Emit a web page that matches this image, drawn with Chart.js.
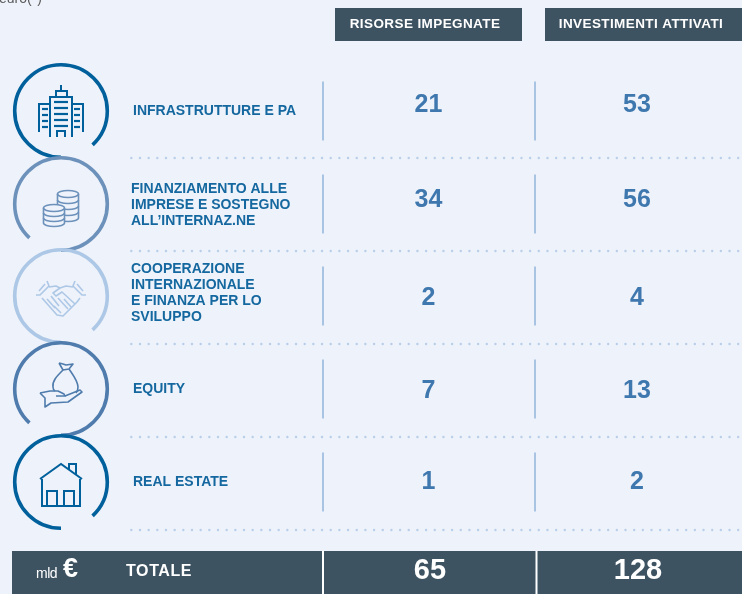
<!DOCTYPE html>
<html><head><meta charset="utf-8">
<style>html,body{margin:0;padding:0;background:#eef2fa;overflow:hidden}canvas{display:block}</style>
<script src="https://cdn.jsdelivr.net/npm/chart.js@4"></script></head>
<body><canvas id="c" width="742" height="594"></canvas>
<script>
const categories=[["INFRASTRUTTURE E PA"],["FINANZIAMENTO ALLE","IMPRESE E SOSTEGNO","ALL’INTERNAZ.NE"],["COOPERAZIONE","INTERNAZIONALE","E FINANZA PER LO","SVILUPPO"],["EQUITY"],["REAL ESTATE"]];
const risorse=[21,34,2,7,1];
const investimenti=[53,56,4,13,2];
const columnTitles=["RISORSE IMPEGNATE","INVESTIMENTI ATTIVATI"];
const totalLabel="TOTALE";
const totals=[65,128];

// layout (page positions on the 1:1 scales)
const ringY=[111,204,296,389,482], ringMirror=[false,true,false,true,false];
const ringCol=["#00609c","#6c91bb","#adc8e6","#4f7cad","#00609c"];
const valY=[105,200,298,391,482], labelY=[111,205,293,389,482], labelX=[133,131,131,133,133];
const sepY=[158,251,344,437,530], vY=[111,204,296,389,482];
const colX=[428.5,637], totX=[430,638];
const pts=(a,xs,ys)=>a.map((v,i)=>({x:xs,y:ys[i],v}));

const ink="#3e5362", bg="#eef2fa";
function ring(c,x,y,i){
  c.strokeStyle=ringCol[i];c.lineWidth=3.6;c.lineCap="butt";c.beginPath();
  if(ringMirror[i])c.arc(x,y,46.3,90*Math.PI/180,133*Math.PI/180,true);
  else c.arc(x,y,46.3,90*Math.PI/180,47*Math.PI/180);
  c.stroke();
}
function building(c,x,y,col){
  c.strokeStyle=col;c.lineWidth=2;
  const o=-111;const L=(a,b,d,e)=>{c.beginPath();c.moveTo(x+a,y+b);c.lineTo(x+d,y+e);c.stroke()};
  c.beginPath();c.moveTo(x-11,y+137+o);c.lineTo(x-11,y+97+o);c.lineTo(x+11,y+97+o);c.lineTo(x+11,y+137+o);c.stroke();
  c.strokeRect(x-5,y+91+o,11,6);L(0,85+o,0,91+o);
  c.beginPath();c.moveTo(x-11,y+104+o);c.lineTo(x-22,y+104+o);c.lineTo(x-22,y+132+o);c.stroke();
  c.beginPath();c.moveTo(x+11,y+104+o);c.lineTo(x+22,y+104+o);c.lineTo(x+22,y+132+o);c.stroke();
  c.lineWidth=2.2;
  for(let k=0;k<5;k++){const yy=102+o+k*6;L(-7,yy,7,yy);}
  for(let k=0;k<4;k++){const yy=109+o+k*6;L(-19,yy,-13,yy);L(13,yy,19,yy);}
  c.lineWidth=2;c.beginPath();c.moveTo(x-4,y+137+o);c.lineTo(x-4,y+131+o);c.lineTo(x+4,y+131+o);c.lineTo(x+4,y+137+o);c.stroke();
}
function stack(c,cx,top,rx,n,st,col){
  c.strokeStyle=col;c.lineWidth=1.6;const ry=3.5;
  c.beginPath();c.ellipse(cx,top,rx,ry,0,0,Math.PI*2);c.stroke();
  for(let k=1;k<=n;k++){c.beginPath();c.ellipse(cx,top+k*st,rx,ry,0,0,Math.PI);c.stroke();}
  c.beginPath();c.moveTo(cx-rx,top);c.lineTo(cx-rx,top+n*st);c.moveTo(cx+rx,top);c.lineTo(cx+rx,top+n*st);c.stroke();
}
function coins(c,x,y,col){stack(c,x+7,y-10,10.5,4,6,col);
  c.fillStyle=bg;c.beginPath();c.ellipse(x-7,y+4,10.5,4,0,0,7);c.rect(x-17.5,y+4,21,15);c.fill();stack(c,x-7,y+4,10.5,3,5,col);}
function hands(c,x,y,col){
  c.strokeStyle=col;c.lineWidth=1.6;c.lineJoin="round";
  const P=a=>{c.beginPath();a.forEach((p,k)=>k?c.lineTo(x+p[0],y+p[1]):c.moveTo(x+p[0],y+p[1]));c.stroke()};
  P([[-25,-1],[-21,-1],[-12,-10],[-14,-15]]);P([[25,-1],[21,-1],[12,-10],[14,-15]]);
  P([[-19,2],[-4,19],[2,20],[16,6],[19,2]]);
  P([[-12,-9],[-5,-10],[-1,-8],[5,-10],[12,-9]]);
  P([[-1,-8],[-8,-3],[-5,0],[1,-4],[14,8]]);
  P([[-14,3],[-6,12]]);P([[-10,0],[-2,10]]);P([[-3,2],[7,13]]);P([[-7,10],[0,17]]);P([[3,3],[10,11]]);
  P([[-16,-12],[-22,-5]]);P([[16,-12],[22,-5]]);
}
function bag(c,x,y,col){
  c.strokeStyle=col;c.lineWidth=1.6;c.lineJoin="round";
  const P=a=>{c.beginPath();a.forEach((p,k)=>k?c.lineTo(x+p[0],y+p[1]):c.moveTo(x+p[0],y+p[1]));c.stroke()};
  P([[-2,-26],[2,-25],[5,-24],[12,-25],[8,-20],[2,-19],[-2,-26]]);
  c.beginPath();c.moveTo(x+2,y-19);c.bezierCurveTo(x-4,y-13,x-9,y-8,x-8,y-2);c.quadraticCurveTo(x-8,y+1,x-6,y+2);c.stroke();
  c.beginPath();c.moveTo(x+8,y-20);c.bezierCurveTo(x+12,y-14,x+17,y-8,x+17,y-2);c.quadraticCurveTo(x+17,y+2,x+15,y+4);c.stroke();
  P([[-21,4],[-11,2],[-3,2],[3,5],[4,7],[-5,7]]);
  P([[4,7],[19,1],[21,3],[7,13],[-10,14],[-16,18],[-16,9],[-21,4]]);
}
function house(c,x,y,col){
  c.strokeStyle=col;c.lineWidth=2;c.lineJoin="miter";
  c.beginPath();c.moveTo(x-21,y-3);c.lineTo(x,y-18);c.lineTo(x+21,y-3);c.stroke();
  c.beginPath();c.moveTo(x-19,y-3);c.lineTo(x-19,y+24);c.lineTo(x+19,y+24);c.lineTo(x+19,y-3);c.stroke();
  c.strokeRect(x-14,y+9,10,15);c.strokeRect(x+3,y+9,10,15);
  c.beginPath();c.moveTo(x+8,y-12);c.lineTo(x+8,y-18);c.lineTo(x+15,y-18);c.lineTo(x+15,y-7);c.stroke();
}
const icons=[building,coins,hands,bag,house];

const tablePlugin={id:"table",
  afterDatasetsDraw(ch){
    const c=ch.ctx,X=ch.scales.x,Y=ch.scales.y,px=v=>X.getPixelForValue(v),py=v=>Y.getPixelForValue(v);
    c.save();c.textBaseline="middle";
    c.fillStyle="#5b5b5b";c.font="14px 'Liberation Sans'";c.textAlign="left";c.fillText("euro(*)",px(-1),py(-1));
    c.fillStyle=ink;c.fillRect(px(335),py(8),187,33);c.fillRect(px(545),py(8),197,33);
    c.fillStyle="#fff";c.font="bold 13.5px 'Liberation Sans'";c.letterSpacing="0.4px";
    c.textAlign="center";c.fillText(columnTitles[0],px(425),py(24));c.fillText(columnTitles[1],px(641),py(24));
    c.letterSpacing="0px";
    c.fillStyle="#b9cfe9";
    sepY.forEach(s=>{for(let d=131.3;d<741;d+=8.67){c.beginPath();c.arc(px(d),py(s),1.2,0,7);c.fill();}});
    c.strokeStyle="#a9c4e2";c.lineWidth=2;
    vY.forEach(v=>[323,535].forEach(h=>{c.beginPath();c.moveTo(px(h),py(v-29.5));c.lineTo(px(h),py(v+29.5));c.stroke();}));
    ch.getDatasetMeta(3).data.forEach((p,i)=>{ring(c,p.x,p.y,i);c.lineCap="butt";icons[i](c,p.x,p.y,ringCol[i]);});
    c.textAlign="left";c.fillStyle="#14689f";c.font="bold 14px 'Liberation Sans'";
    categories.forEach((l,i)=>l.forEach((t,k)=>c.fillText(t,px(labelX[i]),py(labelY[i]+(k-(l.length-1)/2)*16))));
    c.textAlign="center";c.fillStyle="#3f78ae";c.font="bold 25px 'Liberation Sans'";
    [0,1].forEach(d=>ch.getDatasetMeta(d).data.forEach((p,i)=>c.fillText(String(ch.data.datasets[d].data[i].v),p.x,p.y)));
    c.fillStyle=ink;c.fillRect(px(12),py(551),730,43);
    c.fillStyle="#fff";c.fillRect(px(322),py(551),2,43);c.fillRect(px(535.5),py(551),2,43);
    c.textAlign="left";c.font="14px 'Liberation Sans'";c.letterSpacing="-0.5px";c.fillText("mld",px(36),py(574));
    c.letterSpacing="0px";c.font="bold 27px 'Liberation Sans'";c.fillText("€",px(63),py(570));
    c.font="bold 16px 'Liberation Sans'";c.letterSpacing="0.6px";c.fillText(totalLabel,px(126),py(572));c.letterSpacing="0px";
    c.textAlign="center";c.font="bold 29px 'Liberation Sans'";
    ch.getDatasetMeta(2).data.forEach((p,i)=>c.fillText(String(ch.data.datasets[2].data[i].v),p.x,p.y));
    c.restore();
  }};

new Chart(document.getElementById("c"),{
  type:"scatter",
  data:{datasets:[
    {label:columnTitles[0],data:pts(risorse,colX[0],valY),pointRadius:0},
    {label:columnTitles[1],data:pts(investimenti,colX[1],valY),pointRadius:0},
    {label:totalLabel,data:totals.map((v,i)=>({x:totX[i],y:571,v})),pointRadius:0},
    {label:"rows",data:categories.map((l,i)=>({x:61,y:ringY[i]})),pointRadius:0}
  ]},
  options:{responsive:false,animation:false,layout:{padding:0},
    plugins:{legend:{display:false},tooltip:{enabled:false}},
    scales:{x:{type:"linear",min:0,max:742,display:false},y:{type:"linear",min:0,max:594,reverse:true,display:false}}},
  plugins:[tablePlugin]
});
</script></body></html>
